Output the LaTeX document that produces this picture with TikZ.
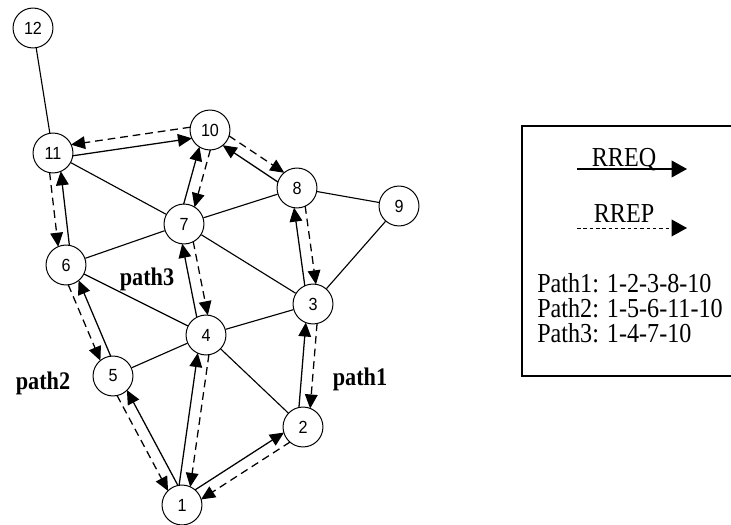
\documentclass[tikz,border=0pt]{standalone}
\usepackage{fontspec}
\setmainfont{Liberation Serif}
\newfontfamily\numfont[FakeStretch=0.92]{Liberation Sans}
\newfontfamily\legfont[FakeStretch=0.88]{Liberation Serif}
\usetikzlibrary{arrows.meta,calc}

\begin{document}
\begin{tikzpicture}[x=0.025cm,y=-0.025cm,
  vertex/.style={circle,draw,line width=0.7pt,minimum size=28.4pt,inner sep=0pt,font=\numfont\fontsize{12.5}{13}\selectfont},
  edge/.style={line width=0.8pt},
  req/.style={line width=0.9pt,-{Triangle[length=10pt,width=9pt]},shorten <=13.5pt,shorten >=13.5pt},
  rep/.style={req,dash pattern=on 5.5pt off 3.5pt},
  lbl/.style={font=\legfont\bfseries\fontsize{18}{20}\selectfont},
  legtxt/.style={font=\legfont\fontsize{19.5}{22}\selectfont,inner sep=0pt}]
\useasboundingbox (0,0) rectangle (731,525);
% nodes
\node[vertex] (n1) at (182,505) {1};
\node[vertex] (n2) at (303,427) {2};
\node[vertex] (n3) at (313,304) {3};
\node[vertex] (n4) at (206,335) {4};
\node[vertex] (n5) at (113,376) {5};
\node[vertex] (n6) at (66,265) {6};
\node[vertex] (n7) at (184,224) {7};
\node[vertex] (n8) at (297,188) {8};
\node[vertex] (n9) at (399,206) {9};
\node[vertex] (n10) at (210,130) {10};
\node[vertex] (n11) at (53,153) {11};
\node[vertex] (n12) at (33,28) {12};
% plain links
\foreach \a/\b in {12/11, 11/7, 6/7, 7/8, 7/3, 6/4, 5/4, 4/3, 4/2, 8/9, 9/3}
  \draw[edge] (n\a) -- (n\b);
% RREQ and RREP along the paths
\foreach \a/\b/\p/\q in {1/2/90/-90, 2/3/90/-90, 3/8/90/-90, 8/10/90/-90,
    1/4/90/-90, 4/7/90/-90, 7/10/90/-90,
    1/5/-90/90, 5/6/-90/90, 6/11/-90/90, 11/10/-90/90}
{
  \draw[req] ($(n\a)!4pt!\p:(n\b)$) -- ($(n\b)!4pt!\q:(n\a)$);
  \draw[rep] ($(n\b)!4pt!\p:(n\a)$) -- ($(n\a)!4pt!\q:(n\b)$);
}
\node[lbl] (path1) at (360,379) {path1};
\node[lbl] (path2) at (43,383) {path2};
\node[lbl] (path3) at (147,279) {path3};
% legend
\draw[line width=0.8pt] (522,126) rectangle (745,376);
\coordinate (reqa) at (577,169);
\coordinate (reqb) at (687,169);
\coordinate (repa) at (577,228);
\coordinate (repb) at (687,228);
\draw[line width=0.9pt,-{Triangle[length=11pt,width=12pt]}] (reqa) -- (reqb);
\draw[line width=0.7pt,dash pattern=on 2.5pt off 2pt,-{Triangle[length=11pt,width=12pt]}] (repa) -- (repb);
\node[legtxt,anchor=base] (reqtxt) at (624,167) {RREQ};
\node[legtxt,anchor=base] (reptxt) at (624,223) {RREP};
\node[legtxt,anchor=base west] (path1txt) at (537,292) {Path1: 1-2-3-8-10};
\node[legtxt,anchor=base west] (path2txt) at (537,317) {Path2: 1-5-6-11-10};
\node[legtxt,anchor=base west] (path3txt) at (537,342) {Path3: 1-4-7-10};
\end{tikzpicture}
\end{document}
